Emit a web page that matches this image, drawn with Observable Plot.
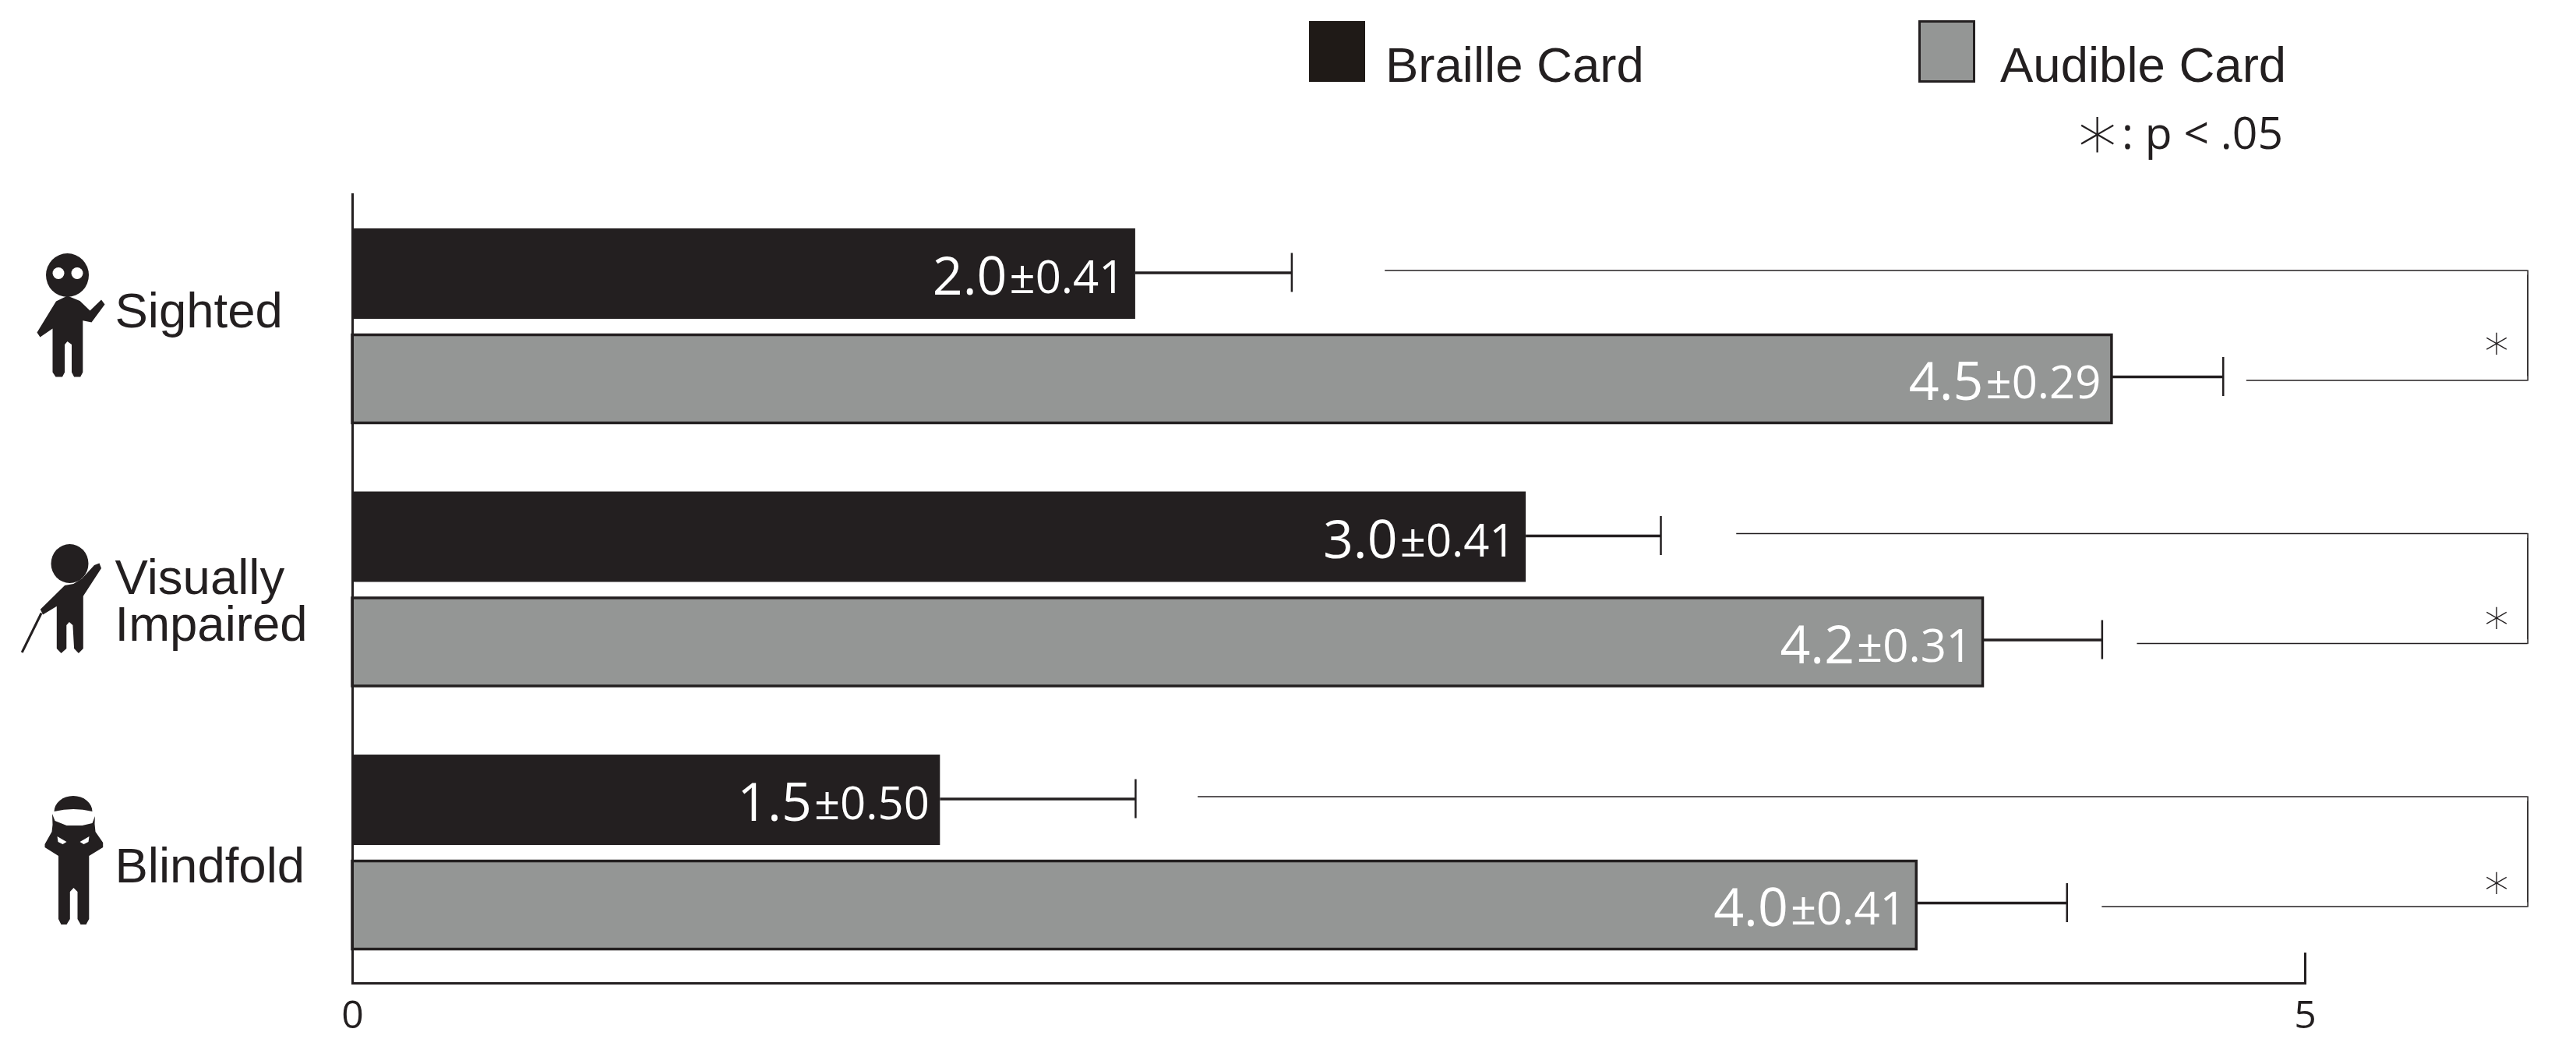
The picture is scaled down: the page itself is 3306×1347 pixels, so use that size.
<!DOCTYPE html>
<html>
<head>
<meta charset="utf-8">
<script src="https://cdn.jsdelivr.net/npm/d3@7"></script>
<script src="https://cdn.jsdelivr.net/npm/@observablehq/plot@0.6"></script>
<style>
html,body{margin:0;padding:0;background:#fff;overflow:hidden;width:3306px;height:1347px}
#legend{position:relative;width:3306px;height:240px;font-family:"Liberation Sans",Arial,sans-serif;color:#231f20}
#legend>*{position:absolute;white-space:nowrap}
.swatch{box-sizing:border-box}
.ltext{font-size:63.5px;line-height:1}
#note{font-family:"Open Sans",sans-serif;font-weight:400;font-size:57px;line-height:1}
svg{display:block}
</style>
</head>
<body>
<div id="legend">
  <div class="swatch" style="left:1680px;top:27px;width:72px;height:78px;background:#1f1a17"></div>
  <div class="ltext" style="left:1778px;top:52px">Braille Card</div>
  <div class="swatch" style="left:2462px;top:26px;width:73px;height:80px;background:#949695;border:3px solid #231f20"></div>
  <div class="ltext" style="left:2567px;top:52px">Audible Card</div>
  <div id="note" style="right:376px;top:141px"><span style="font-family:'DejaVu Sans';font-size:100px;font-weight:200;line-height:57px;vertical-align:-13px">∗</span>: p &lt; .05</div>
</div>
<div id="chart"></div>
<script>
const groups = ["Sighted", "Visually Impaired", "Blindfold"];
const series = ["Braille Card", "Audible Card"];

const brailleValues = [2.005, 3.005, 1.505];
const audibleValues = [4.505, 4.175, 4.005];
const brailleCaps = [2.405, 3.35, 2.005];
const audibleCaps = [4.79, 4.48, 4.39];
const brailleMeans = ["2.0", "3.0", "1.5"];
const audibleMeans = ["4.5", "4.2", "4.0"];
const brailleSds = ["±0.41", "±0.41", "±0.50"];
const audibleSds = ["±0.29", "±0.31", "±0.41"];
const bracketTopStart = [2.644, 3.544, 2.165];
const bracketBottomStart = [4.85, 4.57, 4.48];
const bracketRight = 5.57;
const starX = 5.49;
const xTicks = [0, 5];

const ink = "#231f20", grey = "#949695";

const rows = groups.flatMap((group, i) => [
  {group, series: series[0], value: brailleValues[i], cap: brailleCaps[i], mean: brailleMeans[i], sd: brailleSds[i]},
  {group, series: series[1], value: audibleValues[i], cap: audibleCaps[i], mean: audibleMeans[i], sd: audibleSds[i]}
]);
const braille = rows.filter(d => d.series === series[0]);
const audible = rows.filter(d => d.series === series[1]);
const brackets = groups.map((group, i) => ({group, top: bracketTopStart[i], bottom: bracketBottomStart[i]}));
const bracketSides = brackets.flatMap(d => series.map(s => ({group: d.group, s})));

function icon(top, body) {
  const svg = `<svg xmlns="http://www.w3.org/2000/svg" width="140" height="300" viewBox="0 ${top} 140 300"><g fill="${ink}">${body}</g></svg>`;
  return "data:image/svg+xml," + encodeURIComponent(svg);
}
const icons = [
  {group: groups[0], src: icon(293, `
    <ellipse cx="86" cy="352.5" rx="27.5" ry="28"/>
    <circle cx="74.5" cy="350" r="7.5" fill="#fff"/><circle cx="98.5" cy="350" r="7.5" fill="#fff"/>
    <path d="M86 379L71.5 386L47 426L51 432L67 421L67 477L71 483L79.5 483L82.6 477L82.6 441.6L86 437.6L91.5 441.6L91.5 477L94.6 483L102.7 483L105.8 477L105.8 410.7L117 413L134 390L129.5 384L115 398L102 385.5Z"/>`)},
  {group: groups[1], src: icon(630, `
    <ellipse cx="89" cy="722" rx="24" ry="25"/>
    <path d="M82.6 750L51.3 780.7L54.5 787.4L72.3 776.8L72.3 831L78 837L84.8 831L84.8 801L88.4 797L92.9 801L94.6 831L100.4 837L106.3 831L106.3 763.7L129.5 728L127 721.4L120.5 724L105 741L93.8 748Z"/>
    <path d="M52.6 785.5L27.7 836" stroke="${ink}" stroke-width="3" fill="none"/>`)},
  {group: groups[2], src: icon(967.5, `
    <path d="M69 1040A24.5 20 0 0 1 118 1040Q94 1034 69 1040Z"/>
    <path d="M66.5 1043L67 1057L66 1066L57 1082L57 1086L74.5 1097L74.5 1178L78 1185L85 1185L89.3 1178L89.3 1143L94 1138L99 1143L99 1178L103 1185L110 1185L113.8 1178L113.8 1097L131.7 1086L131.7 1080L122 1066L121 1056L121.4 1046L118 1055L105 1058L85 1058L70 1052Z"/>
    <path d="M73 1072L85 1079L80 1082L74 1079Z M114 1072L102 1079L107 1082L113 1079Z" fill="#fff"/>`)}
];

const labelFont = {fontFamily: "'Liberation Sans', Arial, sans-serif", fontSize: 63.5, fill: ink, textAnchor: "start", frameAnchor: "left", dx: -305};
const valueFont = {fontFamily: "'Open Sans', sans-serif", fontWeight: 400, fill: "#fff", textAnchor: "end"};

function labelMark(group, text, dy) {
  return Plot.text([{group, text}], {...labelFont, text: "text", fy: "group", y: () => series[0], dy, lineHeight: 0.945});
}
function starMark(group, dy) {
  return Plot.text([{group}], {x: () => starX, y: () => series[1], fy: "group", text: () => "∗", dy, fontSize: 62, fontWeight: 300, fontFamily: "'DejaVu Sans', sans-serif", fill: ink});
}
const bracketLine = (opts) => ({fy: "group", stroke: ink, strokeWidth: 1.6, ...opts});

const chart = Plot.plot({
  width: 3306,
  height: 1107,
  marginTop: 53,
  marginBottom: 86,
  marginLeft: 452,
  marginRight: 348,
  style: {background: "#fff", overflow: "visible"},
  x: {domain: [0, 5], range: [452, 2958]},
  y: {type: "band", domain: series, axis: null, paddingInner: 0.1407, paddingOuter: 0.1555, align: 0, round: false},
  fy: {domain: groups, axis: null, paddingInner: 0.132, paddingOuter: 0, round: false},
  marks: [
    // bars
    Plot.barX(braille, {x: "value", y: "series", fy: "group", fill: ink}),
    Plot.barX(audible, {x: "value", y: "series", fy: "group", fill: grey, stroke: ink, strokeWidth: 3.5, insetTop: 1.5, insetBottom: 1.5}),
    // error bars
    Plot.ruleY(braille, {x1: "value", x2: "cap", y: "series", fy: "group", dy: -1.5, stroke: ink, strokeWidth: 3.5}),
    Plot.tickX(braille, {x: "cap", y: "series", fy: "group", dy: -1.5, stroke: ink, strokeWidth: 2.5, insetTop: 33, insetBottom: 33}),
    Plot.ruleY(audible, {x1: "value", x2: "cap", y: "series", fy: "group", dy: -3, stroke: ink, strokeWidth: 3.5}),
    Plot.tickX(audible, {x: "cap", y: "series", fy: "group", dy: -3, stroke: ink, strokeWidth: 2.5, insetTop: 33, insetBottom: 33}),
    // value labels
    Plot.text(rows, {...valueFont, x: "value", y: "series", fy: "group", text: "sd", fontSize: 58, dx: -14, dy: 6}),
    Plot.text(rows, {...valueFont, x: "value", y: "series", fy: "group", text: "mean", fontSize: 68, dx: -165, dy: 5}),
    // significance brackets
    Plot.ruleY(brackets, bracketLine({x1: "top", x2: () => bracketRight, y: () => series[0], dy: -4.5})),
    Plot.ruleY(brackets, bracketLine({x1: "bottom", x2: () => bracketRight, y: () => series[1], dy: 1.5})),
    Plot.line(bracketSides, bracketLine({x: () => bracketRight, y: "s", z: "group", dy: -4.5})),
    Plot.line(bracketSides, bracketLine({x: () => bracketRight, y: "s", z: "group", dy: 1.5})),
    starMark(groups[0], -46),
    starMark(groups[1], -32),
    starMark(groups[2], -29),
    // category labels and pictograms
    labelMark(groups[0], "Sighted", 49),
    labelMark(groups[1], "Visually\nImpaired", 84),
    labelMark(groups[2], "Blindfold", 86),
    Plot.image(icons, {src: "src", fy: "group", y: () => series[0], frameAnchor: "left", dx: -382, dy: 92, width: 140, height: 300}),
    // axes
    Plot.ruleX(groups, {x: () => xTicks[0], fy: d => d, insetTop: -45, stroke: ink, strokeWidth: 3}),
    Plot.ruleX([groups[2]], {x: () => xTicks[1], fy: d => d, insetTop: 254, stroke: ink, strokeWidth: 3}),
    Plot.frame({anchor: "bottom", facet: "super", stroke: ink, strokeWidth: 3}),
    Plot.axisX({ticks: xTicks, tickSize: 0, tickPadding: 22, label: null, fontSize: 50, fontFamily: "'Open Sans', sans-serif", fontWeight: 400, fill: ink, tickFormat: d => String(d)})
  ]
});
document.getElementById("chart").appendChild(chart);
</script>
</body>
</html>
